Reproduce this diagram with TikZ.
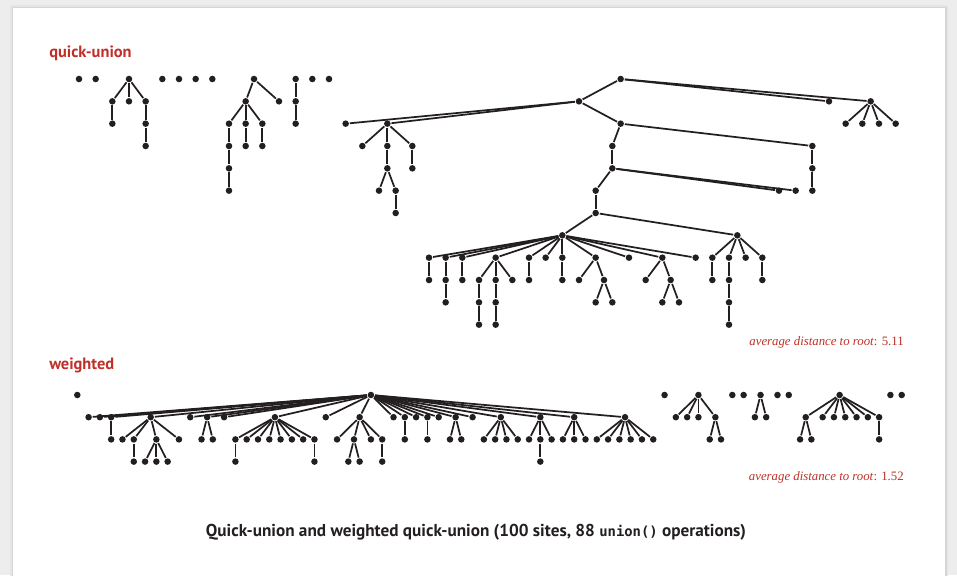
\documentclass[tikz,border=0pt]{standalone}
\usepackage{fontspec}
\setmainfont{Liberation Serif}
\setsansfont{PT Sans}
\setmonofont{DejaVu Sans Mono}
\definecolor{bookred}{RGB}{191,48,40}
\definecolor{ink}{RGB}{35,31,32}
\tikzset{
    site/.style={circle, fill=ink, inner sep=0pt, minimum size=4.9pt},
    link/.style={draw=ink, line width=1.3pt},
    heading/.style={anchor=base west, inner sep=0pt, text=bookred,
    	font=\sffamily\bfseries\fontsize{12.3}{14}\selectfont},
    avgnote/.style={anchor=base east, inner sep=0pt, text=bookred,
    	font=\fontsize{9.6}{11}\selectfont}
}

\begin{document}
\begin{tikzpicture}[x=0.75pt, y=-0.75pt]
	\useasboundingbox (0,0) rectangle (957,575);
	% page with the card on it
	\fill[black!7] (0,0) rectangle (957,575);
	\fill[black!10] (10,5) rectangle (948,580);
	\fill[black!16] (11.5,6.5) rectangle (946.5,580);
	\fill[white] (13,8) rectangle (945,580);

	\node[heading] (qutitle) at (49,57.8) {quick-union};
	\node[heading] (wtitle) at (49,369) {weighted};
	\node[avgnote] (quavg) at (904,345.3) {\textit{average distance to root}: 5.11};
	\node[avgnote] (wavg) at (904,480.7) {\textit{average distance to root}: 1.52};
	\node[anchor=base, inner sep=0pt, text=ink, font=\sffamily\bfseries\fontsize{12.9}{15}\selectfont] (caption) at (476,536.5)
		{Quick-union and weighted quick-union (100 sites, 88 {\ttfamily\fontsize{10.4}{12}\selectfont union()} operations)};

	% quick-union forest
	\begin{scope}[shift={(79,79)}, x=12.5pt, y=-16.75pt, every node/.style=site, link]
	\node (q1) at (0,0) {}; \node (q2) at (1,0) {}; \node (q3) at (3,0) {}; \node (q4) at (5,0) {};
	\node (q5) at (6,0) {}; \node (q6) at (7,0) {}; \node (q7) at (8,0) {}; \node (q8) at (10.5,0) {};
	\node (q9) at (13,0) {}; \node (q10) at (14,0) {}; \node (q11) at (15,0) {}; \node (q12) at (32.5,0) {};

	\node (q13) at (2,1) {}; \node (q14) at (3,1) {}; \node (q15) at (4,1) {};
	\node (q16) at (2,2) {}; \node (q17) at (4,2) {}; \node (q18) at (4,3) {};

	\node (q19) at (10,1) {}; \node (q20) at (12,1) {};
	\node (q21) at (9,2) {}; \node (q22) at (10,2) {}; \node (q23) at (11,2) {};
	\node (q24) at (9,3) {}; \node (q25) at (10,3) {}; \node (q26) at (11,3) {};
	\node (q27) at (9,4) {}; \node (q28) at (9,5) {};

	\node (q29) at (13,1) {}; \node (q30) at (13,2) {};

	\node (q31) at (30,1) {}; \node (q32) at (45,1) {}; \node (q33) at (47.5,1) {};
	\node (q34) at (46,2) {}; \node (q35) at (47,2) {}; \node (q36) at (48,2) {}; \node (q37) at (49,2) {};
	\node (q38) at (16,2) {}; \node (q39) at (18.5,2) {}; \node (q40) at (32.5,2) {};
	\node (q41) at (17,3) {}; \node (q42) at (18.5,3) {}; \node (q43) at (20,3) {};
	\node (q44) at (18.5,4) {}; \node (q45) at (20,4) {};
	\node (q46) at (18,5) {}; \node (q47) at (19,5) {}; \node (q48) at (19,6) {};
	\node (q49) at (32,3) {}; \node (q50) at (44,3) {};
	\node (q51) at (32,4) {}; \node (q52) at (44,4) {};
	\node (q53) at (31,5) {}; \node (q54) at (42,5) {}; \node (q55) at (43,5) {}; \node (q56) at (44,5) {};
	\node (q57) at (31,6) {};
	\node (q58) at (29,7) {}; \node (q59) at (39.5,7) {};

	\node (q60) at (21,8) {}; \node (q61) at (22,8) {}; \node (q62) at (23,8) {}; \node (q63) at (25,8) {};
	\node (q64) at (27,8) {}; \node (q65) at (28,8) {}; \node (q66) at (29,8) {}; \node (q67) at (31,8) {};
	\node (q68) at (33,8) {}; \node (q69) at (35,8) {}; \node (q70) at (37,8) {}; \node (q71) at (38,8) {};
	\node (q72) at (39,8) {}; \node (q73) at (40,8) {}; \node (q74) at (41,8) {};

	\node (q75) at (21,9) {}; \node (q76) at (22,9) {}; \node (q77) at (23,9) {}; \node (q78) at (24,9) {};
	\node (q79) at (25,9) {}; \node (q80) at (26,9) {}; \node (q81) at (27,9) {}; \node (q82) at (29,9) {};
	\node (q83) at (30,9) {}; \node (q84) at (31.5,9) {}; \node (q85) at (34,9) {}; \node (q86) at (35.5,9) {};
	\node (q87) at (38,9) {}; \node (q88) at (39,9) {}; \node (q89) at (41,9) {};

	\node (q90) at (22,10) {}; \node (q91) at (24,10) {}; \node (q92) at (25,10) {}; \node (q93) at (31,10) {};
	\node (q94) at (32,10) {}; \node (q95) at (35,10) {}; \node (q96) at (36,10) {}; \node (q97) at (39,10) {};
	\node (q98) at (24,11) {}; \node (q99) at (25,11) {}; \node (q100) at (39,11) {};

	\draw (q3) edge (q13); \draw (q3) edge (q14); \draw (q3) edge (q15);
	\draw (q13) edge (q16); \draw (q15) edge (q17); \draw (q17) edge (q18);

	\draw (q8) edge (q19); \draw (q8) edge (q20); \draw (q19) edge (q21);
	\draw (q19) edge (q22); \draw (q19) edge (q23); \draw (q21) edge (q24);
	\draw (q22) edge (q25); \draw (q23) edge (q26); \draw (q24) edge (q27);
	\draw (q27) edge (q28);

	\draw (q9) edge (q29); \draw (q29) edge (q30);

	\draw (q12) edge (q31); \draw (q12) edge (q32); \draw (q12) edge (q33);
	\draw (q33) edge (q34); \draw (q33) edge (q35); \draw (q33) edge (q36); \draw (q33) edge (q37);
	\draw (q31) edge (q38); \draw (q31) edge (q39); \draw (q31) edge (q40);
	\draw (q39) edge (q41); \draw (q39) edge (q42); \draw (q39) edge (q43);
	\draw (q42) edge (q44); \draw (q43) edge (q45);
	\draw (q44) edge (q46); \draw (q44) edge (q47); \draw (q47) edge (q48);
	\draw (q40) edge (q49); \draw (q40) edge (q50);
	\draw (q49) edge (q51); \draw (q50) edge (q52);
	\draw (q51) edge (q53); \draw (q51) edge (q54); \draw (q51) edge (q55);
	\draw (q52) edge (q56); \draw (q53) edge (q57);
	\draw (q57) edge (q58); \draw (q57) edge (q59);

	\draw (q58) edge (q60); \draw (q58) edge (q61); \draw (q58) edge (q62); \draw (q58) edge (q63);
	\draw (q58) edge (q64); \draw (q58) edge (q65); \draw (q58) edge (q66); \draw (q58) edge (q67);
	\draw (q58) edge (q68); \draw (q58) edge (q69); \draw (q58) edge (q70);
	\draw (q59) edge (q71); \draw (q59) edge (q72); \draw (q59) edge (q73); \draw (q59) edge (q74);

	\draw (q60) edge (q75); \draw (q61) edge (q76); \draw (q62) edge (q77);
	\draw (q63) edge (q78); \draw (q63) edge (q79); \draw (q63) edge (q80);
	\draw (q64) edge (q81); \draw (q66) edge (q82); \draw (q67) edge (q83);
	\draw (q67) edge (q84); \draw (q69) edge (q85); \draw (q69) edge (q86);
	\draw (q71) edge (q87); \draw (q72) edge (q88); \draw (q74) edge (q89);
	\draw (q76) edge (q90); \draw (q78) edge (q91); \draw (q79) edge (q92);
	\draw (q84) edge (q93); \draw (q84) edge (q94); \draw (q86) edge (q95);
	\draw (q86) edge (q96); \draw (q88) edge (q97);
	\draw (q91) edge (q98); \draw (q92) edge (q99); \draw (q97) edge (q100);
	\end{scope}

	% weighted quick-union forest
	\begin{scope}[shift={(77.3,395)}, x=8.47pt, y=-16.65pt, every node/.style=site, link]
	\node (w1) at (0,0) {}; \node (w2) at (26,0) {}; \node (w3) at (52,0) {}; \node (w4) at (55,0) {};
	\node (w5) at (58,0) {}; \node (w6) at (59,0) {}; \node (w7) at (60.5,0) {}; \node (w8) at (62,0) {};
	\node (w9) at (63,0) {}; \node (w10) at (67.5,0) {}; \node (w11) at (72,0) {}; \node (w12) at (73,0) {};

	\node (w13) at (1,1) {}; \node (w14) at (2,1) {}; \node (w15) at (3,1) {}; \node (w16) at (6.5,1) {};
	\node (w17) at (10,1) {}; \node (w18) at (11.5,1) {}; \node (w19) at (13,1) {}; \node (w20) at (17.5,1) {};
	\node (w21) at (22,1) {}; \node (w22) at (25,1) {}; \node (w23) at (28,1) {}; \node (w24) at (29,1) {};
	\node (w25) at (30,1) {}; \node (w26) at (31,1) {}; \node (w27) at (32,1) {}; \node (w28) at (33.5,1) {};
	\node (w29) at (35,1) {}; \node (w30) at (37.5,1) {}; \node (w31) at (41,1) {}; \node (w32) at (44,1) {};
	\node (w33) at (48.5,1) {};

	\node (w34) at (3,2) {}; \node (w35) at (4,2) {}; \node (w36) at (5,2) {}; \node (w37) at (7,2) {};
	\node (w38) at (9,2) {}; \node (w39) at (11,2) {}; \node (w40) at (12,2) {}; \node (w41) at (14,2) {};
	\node (w42) at (15,2) {}; \node (w43) at (16,2) {}; \node (w44) at (17,2) {}; \node (w45) at (18,2) {};
	\node (w46) at (19,2) {}; \node (w47) at (20,2) {}; \node (w48) at (21,2) {}; \node (w49) at (23,2) {};
	\node (w50) at (24.5,2) {}; \node (w51) at (26,2) {}; \node (w52) at (27,2) {}; \node (w53) at (29,2) {};
	\node (w54) at (31,2) {}; \node (w55) at (33,2) {}; \node (w56) at (34,2) {}; \node (w57) at (36,2) {};
	\node (w58) at (37,2) {}; \node (w59) at (38,2) {}; \node (w60) at (39,2) {}; \node (w61) at (40,2) {};
	\node (w62) at (41,2) {}; \node (w63) at (42,2) {}; \node (w64) at (43,2) {}; \node (w65) at (44,2) {};
	\node (w66) at (45,2) {}; \node (w67) at (46,2) {}; \node (w68) at (47,2) {}; \node (w69) at (48,2) {};
	\node (w70) at (49,2) {}; \node (w71) at (50,2) {}; \node (w72) at (51,2) {};

	\node (w73) at (5,3) {}; \node (w74) at (6,3) {}; \node (w75) at (7,3) {}; \node (w76) at (8,3) {};
	\node (w77) at (14,3) {}; \node (w78) at (21,3) {}; \node (w79) at (24,3) {}; \node (w80) at (25,3) {};
	\node (w81) at (27,3) {}; \node (w82) at (41,3) {};

	\node (w83) at (53,1) {}; \node (w84) at (54,1) {}; \node (w85) at (55,1) {}; \node (w86) at (56.5,1) {};
	\node (w87) at (56,2) {}; \node (w88) at (57,2) {};
	\node (w89) at (60,1) {}; \node (w90) at (61,1) {};
	\node (w91) at (64.5,1) {}; \node (w92) at (66,1) {}; \node (w93) at (67,1) {}; \node (w94) at (68,1) {};
	\node (w95) at (69,1) {}; \node (w96) at (70,1) {}; \node (w97) at (71,1) {};
	\node (w98) at (64,2) {}; \node (w99) at (65,2) {}; \node (w100) at (71,2) {};

	\foreach \n in {13,...,33}
		\draw (w2) edge (w\n);

	\draw (w15) edge (w34); \draw (w16) edge (w35); \draw (w16) edge (w36);
	\draw (w16) edge (w37); \draw (w16) edge (w38); \draw (w18) edge (w39);
	\draw (w18) edge (w40);
	\foreach \n in {41,...,48}
		\draw (w20) edge (w\n);
	\draw (w22) edge (w49); \draw (w22) edge (w50); \draw (w22) edge (w51);
	\draw (w22) edge (w52); \draw (w24) edge (w53); \draw (w26) edge (w54);
	\draw (w28) edge (w55); \draw (w28) edge (w56);
	\draw (w30) edge (w57); \draw (w30) edge (w58); \draw (w30) edge (w59); \draw (w30) edge (w60);
	\draw (w31) edge (w61); \draw (w31) edge (w62); \draw (w31) edge (w63);
	\draw (w32) edge (w64); \draw (w32) edge (w65); \draw (w32) edge (w66);
	\foreach \n in {67,...,72}
		\draw (w33) edge (w\n);

	\draw (w36) edge (w73); \draw (w37) edge (w74); \draw (w37) edge (w75);
	\draw (w37) edge (w76); \draw (w41) edge (w77); \draw (w48) edge (w78);
	\draw (w50) edge (w79); \draw (w50) edge (w80); \draw (w52) edge (w81);
	\draw (w62) edge (w82);

	\draw (w4) edge (w83); \draw (w4) edge (w84); \draw (w4) edge (w85); \draw (w4) edge (w86);
	\draw (w86) edge (w87); \draw (w86) edge (w88);
	\draw (w7) edge (w89); \draw (w7) edge (w90);
	\foreach \n in {91,...,97}
		\draw (w10) edge (w\n);
	\draw (w91) edge (w98); \draw (w91) edge (w99); \draw (w97) edge (w100);
	\end{scope}
\end{tikzpicture}
\end{document}
